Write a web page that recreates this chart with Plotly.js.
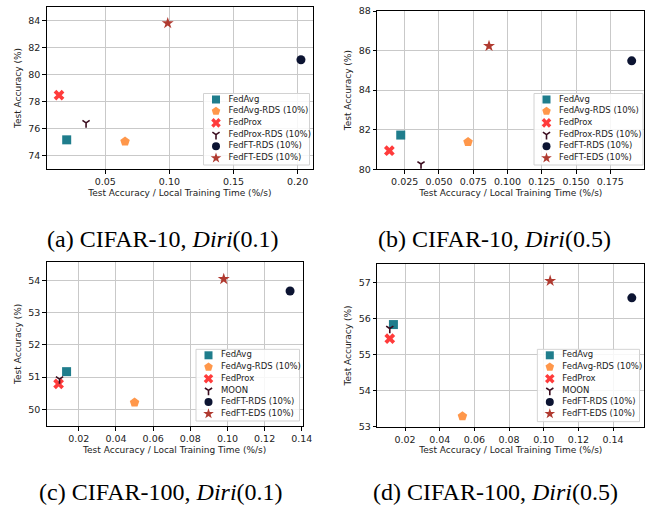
<!DOCTYPE html>
<html>
<head>
<meta charset="utf-8">
<script src="https://cdn.plot.ly/plotly-3.0.1.min.js"></script>
<style>html,body{margin:0;padding:0;background:#fff;}#chart{width:651px;height:512px;}</style>
</head>
<body>
<div id="chart"></div>
<script>
// ---------- data ----------
const methods10 = ['FedAvg', 'FedAvg-RDS (10%)', 'FedProx', 'FedProx-RDS (10%)', 'FedFT-RDS (10%)', 'FedFT-EDS (10%)'];
const methods100 = ['FedAvg', 'FedAvg-RDS (10%)', 'FedProx', 'MOON', 'FedFT-RDS (10%)', 'FedFT-EDS (10%)'];

const effA = [0.0199, 0.0654, 0.0139, 0.0350, 0.2026, 0.0987];
const accA = [75.16, 75.04, 78.47, 76.42, 81.09, 83.80];

const effB = [0.0221, 0.0712, 0.0138, 0.0369, 0.1906, 0.0865];
const accB = [81.73, 81.38, 80.94, 80.27, 85.48, 86.23];

const effC = [0.0134, 0.0500, 0.0091, 0.0096, 0.1337, 0.0980];
const accC = [51.17, 50.21, 50.79, 50.94, 53.68, 54.05];

const effD = [0.0133, 0.0531, 0.0112, 0.0112, 0.1508, 0.1037];
const accD = [55.83, 53.29, 55.44, 55.72, 56.57, 57.04];

const xTicksA = [0.05, 0.10, 0.15, 0.20];
const yTicksA = [74, 76, 78, 80, 82, 84];
const xTicksB = [0.025, 0.050, 0.075, 0.100, 0.125, 0.150, 0.175];
const yTicksB = [80, 82, 84, 86, 88];
const xTicksC = [0.02, 0.04, 0.06, 0.08, 0.10, 0.12, 0.14];
const yTicksC = [50, 51, 52, 53, 54];
const xTicksD = [0.02, 0.04, 0.06, 0.08, 0.10, 0.12, 0.14];
const yTicksD = [53, 54, 55, 56, 57];

const captions = ['(a) CIFAR-10, <i>Diri</i>(0.1)', '(b) CIFAR-10, <i>Diri</i>(0.5)',
                  '(c) CIFAR-100, <i>Diri</i>(0.1)', '(d) CIFAR-100, <i>Diri</i>(0.5)'];

const xTitle = 'Test Accuracy / Local Training Time (%/s)';
const yTitle = 'Test Accuracy (%)';

// ---------- styles ----------
const styles = [
  {symbol: 'square',   color: '#1f7d8c', size: 9},
  {symbol: 'pentagon', color: '#ff974a', size: 10},
  {symbol: 'x',        color: '#ff3b3b', size: 9.5},
  {symbol: 'y-down',   color: '#3b0d1f', size: 6, line: true},
  {symbol: 'circle',   color: '#0c1432', size: 9},
  {symbol: 'star',     color: '#b03a30', size: 9}
];

const W = 651, H = 512;
const fx = p => p / W;
const fy = p => 1 - p / H;

const panels = [
  {names: methods10, x: effA, y: accA, xr: [0.0043, 0.212], yr: [73, 85], xt: xTicksA, yt: yTicksA, fmt: '.2f',
   box: [46.7, 7, 313, 169], leg: [203.5, 93.5, 309.5, 165]},
  {names: methods10, x: effB, y: accB, xr: [0.005, 0.1998], yr: [80, 88], xt: xTicksB, yt: yTicksB, fmt: '.3f',
   box: [377.3, 11, 644.3, 169.3], leg: [534, 93.5, 643, 165]},
  {names: methods100, x: effC, y: accC, xr: [0.0027, 0.1405], yr: [49.48, 54.59], xt: xTicksC, yt: yTicksC, fmt: '.2f',
   box: [46.7, 261.7, 302.7, 426], leg: [196, 349.3, 299.5, 421]},
  {names: methods100, x: effD, y: accD, xr: [0.004, 0.158], yr: [53, 57.5], xt: xTicksD, yt: yTicksD, fmt: '.2f',
   box: [377.3, 264.3, 644.3, 426.7], leg: [537.3, 349.3, 639.5, 421.7]}
];

const capPos = [[162.5, 239], [494.5, 239], [161, 492], [495, 492]];

const tickFont = {family: 'DejaVu Sans', size: 9.5, color: '#222'};
const titleFont = {family: 'DejaVu Sans', size: 9, color: '#222'};

const traces = [];
const layout = {
  width: W, height: H,
  margin: {l: 0, r: 0, t: 0, b: 0},
  paper_bgcolor: '#fff', plot_bgcolor: 'rgba(0,0,0,0)',
  showlegend: false,
  annotations: [],
  font: {family: 'DejaVu Sans'}
};

function markerFor(st) {
  if (st.line) {
    return {symbol: st.symbol, size: st.size, color: st.color, line: {color: st.color, width: 1.6}};
  }
  return {symbol: st.symbol, size: st.size, color: st.color, line: {width: 0}};
}

panels.forEach((p, i) => {
  const k = i + 1;
  const xa = 'xaxis' + (k === 1 ? '' : k), ya = 'yaxis' + (k === 1 ? '' : k);
  const xr = 'x' + (k === 1 ? '' : k), yr = 'y' + (k === 1 ? '' : k);
  layout[xa] = {
    domain: [fx(p.box[0]), fx(p.box[2])], anchor: yr, range: p.xr,
    tickvals: p.xt, tickformat: p.fmt, showgrid: true, gridcolor: '#c9c9c9', gridwidth: 1,
    showline: true, mirror: true, linecolor: '#000', linewidth: 1, zeroline: false,
    ticks: 'outside', ticklen: 3.5, tickcolor: '#000', tickfont: tickFont, automargin: false,
    title: {text: xTitle, font: titleFont, standoff: 3}
  };
  layout[ya] = {
    domain: [fy(p.box[3]), fy(p.box[1])], anchor: xr, range: p.yr,
    tickvals: p.yt, showgrid: true, gridcolor: '#c9c9c9', gridwidth: 1,
    showline: true, mirror: true, linecolor: '#000', linewidth: 1, zeroline: false,
    ticks: 'outside', ticklen: 3.5, tickcolor: '#000', tickfont: tickFont, automargin: false,
    title: {text: yTitle, font: titleFont, standoff: 5}
  };
  p.names.forEach((nm, j) => {
    traces.push({
      type: 'scatter', mode: 'markers', name: nm,
      x: [p.x[j]], y: [p.y[j]], xaxis: xr, yaxis: yr,
      marker: markerFor(styles[j]), cliponaxis: false, hoverinfo: 'skip'
    });
  });
});

// legend subplots (drawn as small axes over each panel)
panels.forEach((p, i) => {
  const k = i + 5;
  const [lx0, ly0, lx1, ly1] = p.leg;
  const w = lx1 - lx0, h = ly1 - ly0;
  layout['xaxis' + k] = {domain: [fx(lx0 - 1), fx(lx1 + 1)], range: [-1, w + 1], visible: false, fixedrange: true, anchor: 'y' + k};
  layout['yaxis' + k] = {domain: [fy(ly1 + 1), fy(ly0 - 1)], range: [h + 1, -1], visible: false, fixedrange: true, anchor: 'x' + k};
  traces.push({
    type: 'scatter', mode: 'lines', x: [0, w, w, 0, 0], y: [0, 0, h, h, 0],
    fill: 'toself', fillcolor: 'rgba(255,255,255,0.85)', line: {color: '#d2d2d2', width: 1},
    xaxis: 'x' + k, yaxis: 'y' + k, hoverinfo: 'skip'
  });
  const rowY = p.names.map((_, j) => 6 + j * 11.7);
  p.names.forEach((nm, j) => {
    const st = styles[j];
    const m = markerFor(st);
    m.size = Math.max(6, st.size - 1);
    traces.push({
      type: 'scatter', mode: 'markers', x: [12.5], y: [rowY[j]],
      marker: m, xaxis: 'x' + k, yaxis: 'y' + k, hoverinfo: 'skip', cliponaxis: false
    });
  });
  traces.push({
    type: 'scatter', mode: 'text', x: p.names.map(() => 25), y: rowY, text: p.names,
    textposition: 'middle right', textfont: {family: 'DejaVu Sans', size: 8.5, color: '#222'},
    xaxis: 'x' + k, yaxis: 'y' + k, hoverinfo: 'skip', cliponaxis: false
  });
});

captions.forEach((c, i) => {
  layout.annotations.push({
    text: c, xref: 'paper', yref: 'paper', x: fx(capPos[i][0]), y: fy(capPos[i][1]),
    xanchor: 'center', yanchor: 'middle', showarrow: false,
    font: {family: 'Liberation Serif, Times New Roman, serif', size: 24, color: '#000'}
  });
});

Plotly.newPlot('chart', traces, layout, {displayModeBar: false, staticPlot: true});
</script>
</body>
</html>
